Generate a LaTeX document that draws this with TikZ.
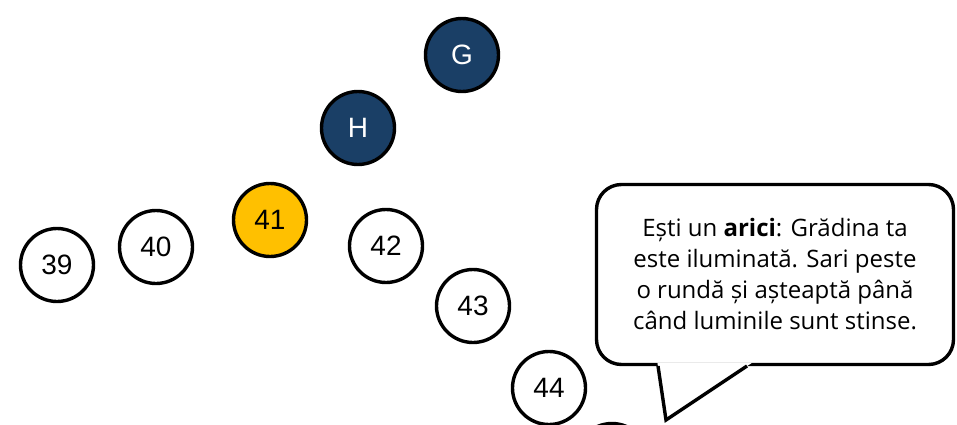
\documentclass[tikz,border=0pt]{standalone}
\usepackage{fontspec}
\setmainfont{Liberation Sans}
\newfontfamily\bubblefont{Open Sans}
\definecolor{navy}{HTML}{1A3F66}
\definecolor{gold}{HTML}{FFC000}
\tikzset{
  spot/.style={circle, draw=black, line width=3.4pt, minimum size=73pt, inner sep=0pt,
    fill=white, font=\fontsize{28}{32}\selectfont},
  darkspot/.style={spot, fill=navy, text=white},
  goldspot/.style={spot, fill=gold},
  bubble/.style={draw=black, line width=3.4pt, rounded corners=25pt, fill=white,
    minimum width=357pt, minimum height=180pt, align=center,
    font=\bubblefont\fontsize{24}{31}\selectfont},
}
\begin{document}
\begin{tikzpicture}[x=1pt,y=-1pt]
\useasboundingbox (0,0) rectangle (957,425);
\node[spot] (n39) at (57,265) {39};
\node[spot] (n40) at (156,247) {40};
\node[goldspot] (n41) at (270,220) {41};
\node[darkspot] (h) at (358,128) {H};
\node[darkspot] (g) at (462,55) {G};
\node[spot] (n42) at (386,246) {42};
\node[spot] (n43) at (473,306) {43};
\node[spot] (n44) at (549,388) {44};
\node[spot] (n45) at (612,460) {};
\node[bubble] (b) at (775,274.5) {Ești un \textbf{arici}: Grădina ta\\este iluminată. Sari peste\\o rundă și așteaptă până\\când luminile sunt stinse.};
\coordinate (tl) at (658,366);
\coordinate (tip) at (666,420);
\coordinate (tr) at (747,366);
\fill[white] (657.4,362.5) -- (tip) -- (752.4,362.5) -- cycle;
\draw[line width=3.4pt, line join=miter] (tl) -- (tip) -- (tr);
\end{tikzpicture}
\end{document}
